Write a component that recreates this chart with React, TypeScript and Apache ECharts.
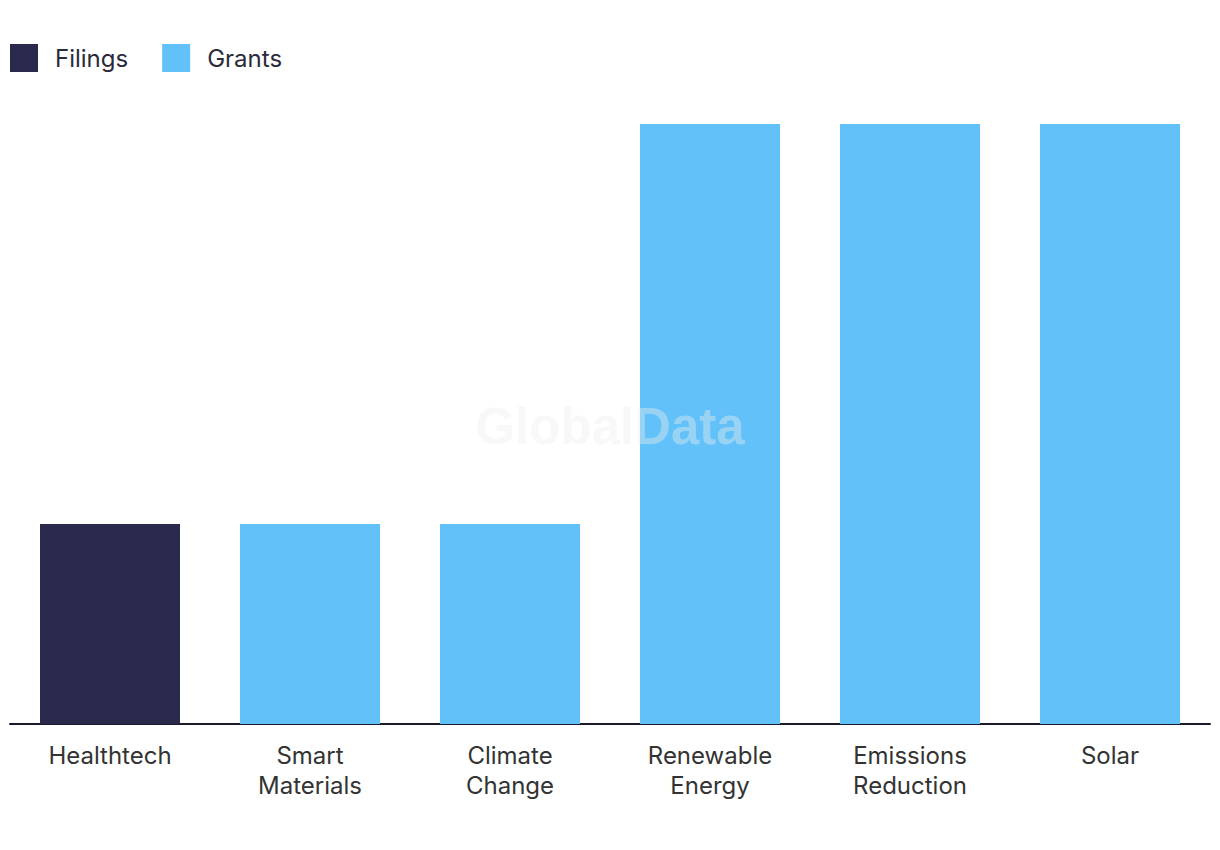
import React, { useEffect, useRef } from "react";
import * as echarts from "echarts";

const categories = ["Healthtech", "Smart\nMaterials", "Climate\nChange", "Renewable\nEnergy", "Emissions\nReduction", "Solar"];
const filings = [1, null, null, null, null, null];
const grants = [null, 1, 1, 3, 3, 3];

export default function App() {
  const ref = useRef<HTMLDivElement>(null);
  useEffect(() => {
    document.body.style.margin = "0";
    const chart = echarts.init(ref.current!, null, { renderer: "svg" });
    const font = "Inter, 'Noto Sans', sans-serif";
    chart.setOption({
      animation: false,
      legend: {
        left: 10,
        top: 44,
        padding: 0,
        itemWidth: 28,
        itemHeight: 28,
        itemGap: 34,
        icon: "rect",
        textStyle: { fontSize: 24, color: "#2a2a3a", fontFamily: font, padding: [0, 0, 0, 12] },
        data: ["Filings", "Grants"],
      },
      grid: { left: 10, right: 10, top: 124, bottom: 126, containLabel: false },
      xAxis: {
        type: "category",
        data: categories,
        axisLine: { lineStyle: { color: "#1a1a2a", width: 2 } },
        axisTick: { show: false },
        axisLabel: { fontSize: 24, color: "#333", fontFamily: font, lineHeight: 30, margin: 16 },
      },
      yAxis: { type: "value", min: 0, max: 3, show: false, splitLine: { show: false } },
      graphic: [
        {
          type: "text",
          left: "center",
          top: 401,
          z: 100,
          style: { text: "GlobalData", fontSize: 51, fontWeight: "bold", fontFamily: "Arial, 'Liberation Sans', sans-serif", fill: "rgba(238,238,238,0.4)" },
        },
      ],
      series: [
        { name: "Filings", type: "bar", stack: "s", data: filings, barWidth: 140, itemStyle: { color: "#29294b" } },
        { name: "Grants", type: "bar", stack: "s", data: grants, barWidth: 140, itemStyle: { color: "#62c1f8" } },
      ],
    });
    return () => chart.dispose();
  }, []);
  return <div ref={ref} style={{ width: 1220, height: 850 }} />;
}
